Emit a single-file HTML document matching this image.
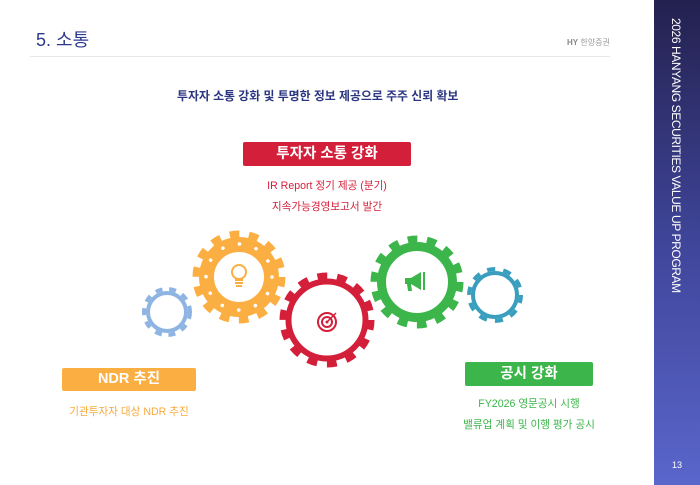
<!DOCTYPE html>
<html><head><meta charset="utf-8"><style>
body{margin:0;width:700px;height:485px;background:#fff;position:relative;overflow:hidden;font-family:"Liberation Sans","Noto Sans CJK KR",sans-serif}
.a{position:absolute;white-space:nowrap}
.side{position:absolute;left:654px;top:0;width:46px;height:485px;background:linear-gradient(#24214f,#3f4599 50%,#5a66cb)}
.vt{position:absolute;left:669px;top:18px;writing-mode:vertical-rl;color:#fff;font-size:12px;letter-spacing:-0.4px}
.box{position:absolute;color:#fff;font-weight:bold;text-align:center;border-radius:2px}
.c{text-align:center}
</style></head><body>
<div class="a" style="left:36px;top:26px;font-size:18px;color:#2e3a8c">5. 소통</div>
<div class="a" style="left:567px;top:37px;font-size:8px;color:#999"><b style="color:#888">HY</b> 한양증권</div>
<div class="a" style="left:30px;top:56px;width:580px;height:1px;background:#e6e6e6"></div>
<div class="a" style="left:177px;top:87px;font-size:11.9px;font-weight:bold;color:#2b3580">투자자 소통 강화 및 투명한 정보 제공으로 주주 신뢰 확보</div>
<div class="box" style="left:243px;top:142px;width:168px;height:24px;line-height:24px;background:#d41f3a;font-size:14.5px">투자자 소통 강화</div>
<div class="a c" style="left:227px;top:178px;width:200px;font-size:10.6px;color:#d41f3a">IR Report 정기 제공 (분기)</div>
<div class="a c" style="left:227px;top:199px;width:200px;font-size:10.6px;color:#d41f3a">지속가능경영보고서 발간</div>
<div class="box" style="left:62px;top:368px;width:134px;height:23px;line-height:23px;background:#fbaf42;font-size:14.5px">NDR 추진</div>
<div class="a c" style="left:29px;top:404px;width:200px;font-size:10.6px;color:#f9a93a">기관투자자 대상 NDR 추진</div>
<div class="box" style="left:465px;top:362px;width:128px;height:24px;line-height:24px;background:#3cb54a;font-size:14.5px">공시 강화</div>
<div class="a c" style="left:429px;top:396px;width:200px;font-size:10.6px;color:#3cb54a">FY2026 영문공시 시행</div>
<div class="a c" style="left:429px;top:417px;width:200px;font-size:10.6px;color:#3cb54a">밸류업 계획 및 이행 평가 공시</div>
<svg class="a" style="left:0;top:0" width="654" height="485">
<g fill="none">
<circle cx="167" cy="312" r="19" stroke="#8db4e2" stroke-width="4"/>
<circle cx="167" cy="312" r="23" stroke="#8db4e2" stroke-width="4" stroke-dasharray="7 6.8"/>
<circle cx="239" cy="277" r="32.5" stroke="#fbaf42" stroke-width="15"/>
<circle cx="239" cy="277" r="43" stroke="#fbaf42" stroke-width="7" stroke-dasharray="9.65 9.65"/>
<circle cx="239" cy="277" r="33" stroke="#fff" stroke-width="3.5" stroke-dasharray="0.1 17.2" stroke-linecap="round"/>
<circle cx="327" cy="320" r="38.5" stroke="#d41f3a" stroke-width="6"/>
<circle cx="327" cy="320" r="44" stroke="#d41f3a" stroke-width="7" stroke-dasharray="9.87 9.87"/>
<circle cx="417" cy="282" r="35.5" stroke="#3cb54a" stroke-width="9"/>
<circle cx="417" cy="282" r="43" stroke="#3cb54a" stroke-width="7" stroke-dasharray="9.65 9.65"/>
<circle cx="495" cy="295" r="22" stroke="#3a9fbf" stroke-width="4"/>
<circle cx="495" cy="295" r="26" stroke="#3a9fbf" stroke-width="4" stroke-dasharray="8.17 8.17"/>
<circle cx="239" cy="272" r="7" stroke="#fbaf42" stroke-width="2"/>
<path d="M235 280h8M235 283h8M236 286h6" stroke="#fbaf42" stroke-width="2"/>
<circle cx="327" cy="322" r="9" stroke="#d41f3a" stroke-width="2"/>
<circle cx="327" cy="322" r="5" stroke="#d41f3a" stroke-width="2"/>
<circle cx="327" cy="322" r="1.5" fill="#d41f3a"/>
<path d="M327 322l9-9" stroke="#d41f3a" stroke-width="1.5"/>
</g>
<path d="M405 278h6l10-6v18l-10-6h-6z M407 284h4l1 7h-4z M423 272h2v18h-2z" fill="#3cb54a"/>
</svg>
<div class="side"></div>
<div class="vt">2026 HANYANG SECURITIES VALUE UP PROGRAM</div>
<div class="a" style="left:672px;top:460px;font-size:9px;color:#fff">13</div>
</body></html>
